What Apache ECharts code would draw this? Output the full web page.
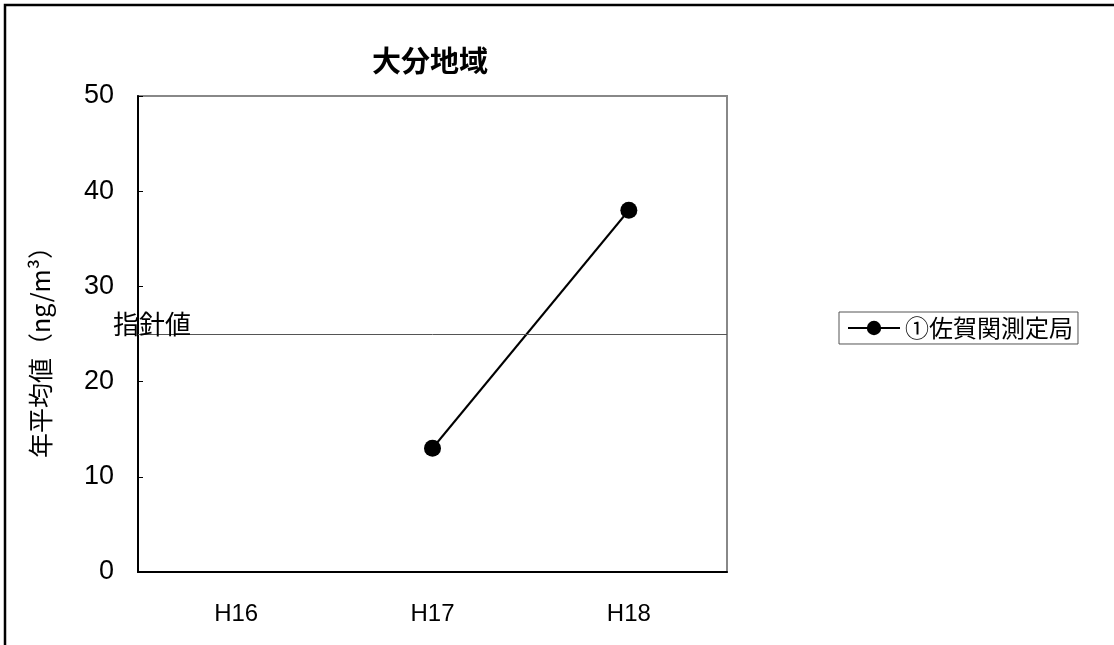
<!DOCTYPE html>
<html><head><meta charset="utf-8">
<script src="https://cdn.jsdelivr.net/npm/echarts@6/dist/echarts.min.js"></script>
<style>html,body{margin:0;padding:0;background:#fff}#c{width:1114px;height:645px}</style>
</head><body><div id="c"></div>
<script>
const categories = ['H16', 'H17', 'H18'];
const seriesName = '①佐賀関測定局';
const values = [null, 13, 38];
const guideValue = 25;
const guideLabel = '指針値';
const titleText = '大分地域';
const yName = '年平均値（ng/m³）';

const chart = echarts.init(document.getElementById('c'));
const cjk = "'Noto Sans CJK JP', sans-serif";
const latin = "'Liberation Sans', Arial, sans-serif";
chart.setOption({
  animation: false,
  backgroundColor: '#fff',
  title: {
    text: titleText, left: 367, top: 41,
    textStyle: { fontFamily: cjk, fontSize: 29, fontWeight: 'bold', color: '#000' }
  },
  grid: { left: 138, top: 96, right: 387, bottom: 73, show: true, borderColor: '#888', borderWidth: 2, backgroundColor: 'transparent' },
  legend: {
    left: 839, top: 312, orient: 'vertical',
    padding: [4, 5, 4, 8], borderColor: '#555', borderWidth: 1,
    itemWidth: 52, itemHeight: 18,
    textStyle: { fontFamily: cjk, fontSize: 24, color: '#000' },
    data: [seriesName]
  },
  xAxis: {
    type: 'category', data: categories, boundaryGap: true,
    axisLine: { lineStyle: { color: '#000', width: 2 } },
    axisTick: { inside: true, length: 5, lineStyle: { color: '#000' } },
    axisLabel: { margin: 30, fontFamily: latin, fontSize: 24, color: '#000' },
    splitLine: { show: false }
  },
  yAxis: {
    type: 'value', min: 0, max: 50, interval: 10,
    name: yName, nameLocation: 'middle', nameGap: 85, nameRotate: 90,
    nameTextStyle: { fontFamily: cjk, fontSize: 25, color: '#000', padding: [0, 24, 0, 0] },
    axisLine: { show: true, lineStyle: { color: '#000', width: 2 } },
    axisTick: { show: true, inside: true, length: 5, lineStyle: { color: '#000' } },
    axisLabel: { margin: 24, fontFamily: latin, fontSize: 27, color: '#000', padding: [5, 0, 0, 0] },
    splitLine: { show: false }
  },
  series: [{
    name: seriesName, type: 'line', data: values, connectNulls: false,
    symbol: 'circle', symbolSize: 17,
    lineStyle: { color: '#000', width: 2 },
    itemStyle: { color: '#000' },
    markLine: {
      silent: true, symbol: ['none', 'none'],
      lineStyle: { color: '#555', width: 1, type: 'solid' },
      label: { show: true, position: 'insideStartTop', formatter: guideLabel, distance: [-25, -3], fontFamily: cjk, fontSize: 26, color: '#000' },
      data: [{ yAxis: guideValue }]
    }
  }],
  graphic: [{
    type: 'rect', silent: true, z: 100,
    shape: { x: 5, y: 5, width: 1130, height: 680 },
    style: { fill: 'none', stroke: '#000', lineWidth: 2.5 }
  }]
});
</script></body></html>
